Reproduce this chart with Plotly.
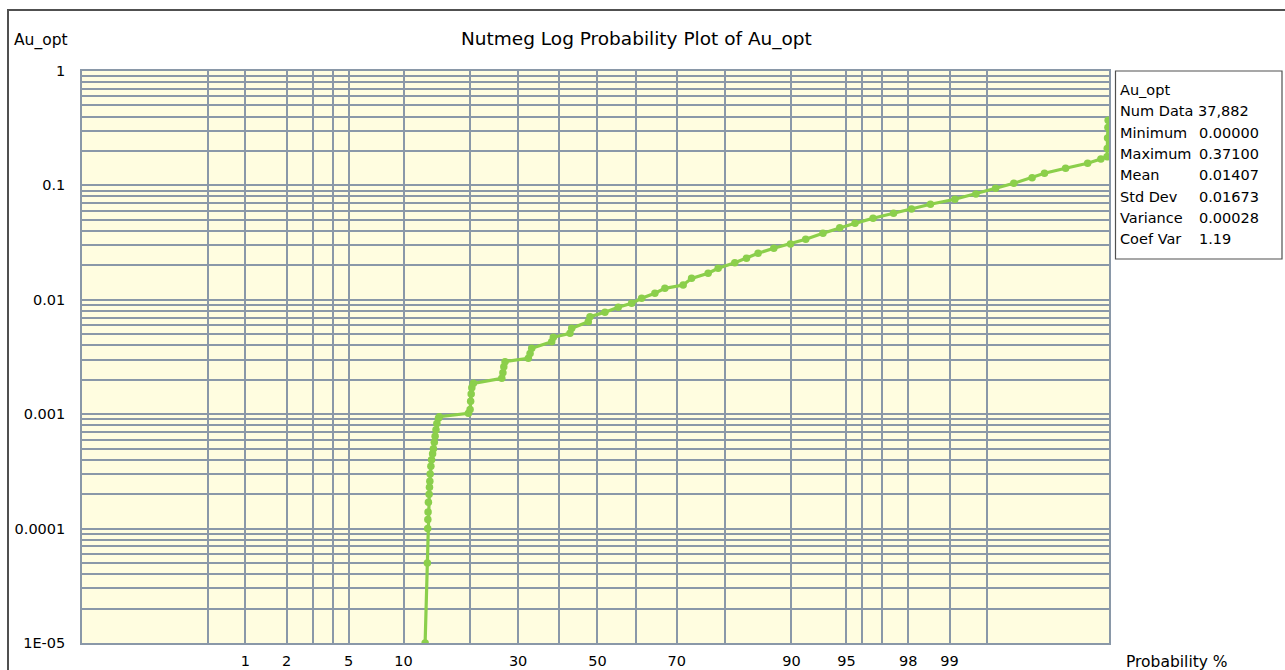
from statistics import NormalDist
import plotly.graph_objects as go

# Cumulative probability (%) and Au_opt grade of the plotted samples
prob_pct = [
    12.74, 13.05, 13.10, 13.12, 13.15, 13.20, 13.30, 13.35, 13.40, 13.45,
    13.55, 13.65, 13.80, 13.92, 14.05, 14.17, 14.30, 14.43, 14.67, 14.80,
    19.69, 20.00, 20.10, 20.20, 20.32, 20.62, 26.36, 26.60, 26.80, 27.07,
    32.39, 32.80, 33.20, 38.12, 38.53, 42.80, 43.24, 47.58, 48.03, 51.97,
    55.46, 58.93, 61.48, 64.78, 67.20, 71.44, 73.30, 76.77, 78.74, 81.79,
    83.76, 85.57, 87.80, 89.89, 91.56, 93.19, 94.53, 95.56, 96.57, 97.48,
    98.10, 98.61, 99.09, 99.38, 99.574, 99.703, 99.796, 99.843, 99.901, 99.940,
    99.956, 99.962, 99.9622, 99.9625, 99.9628, 99.963,
]
au_value = [
    0.00001, 0.00005, 0.00010, 0.00012, 0.00014, 0.00017, 0.00020, 0.00023, 0.00026, 0.00030,
    0.00035, 0.00040, 0.00045, 0.00050, 0.00057, 0.00064, 0.00073, 0.00083, 0.00092, 0.00095,
    0.00102, 0.00110, 0.00130, 0.00150, 0.00170, 0.00186, 0.00206, 0.00230, 0.00260, 0.00288,
    0.00308, 0.00340, 0.00377, 0.00430, 0.00470, 0.00509, 0.00564, 0.00644, 0.00712, 0.00780,
    0.00860, 0.00932, 0.01030, 0.01140, 0.01260, 0.01347, 0.01540, 0.01705, 0.01885, 0.02110,
    0.02305, 0.02550, 0.02820, 0.03075, 0.03380, 0.03810, 0.04270, 0.04660, 0.05160, 0.05700,
    0.06220, 0.06840, 0.07560, 0.08410, 0.09430, 0.10430, 0.11680, 0.12760, 0.14110, 0.15600,
    0.17000, 0.17800, 0.21000, 0.26000, 0.32000, 0.37100,
]

# Probability axis: gridline positions and labelled ticks
grid_pct = [0.5, 1, 2, 3, 4, 5, 10, 20, 30, 40, 50, 60, 70, 80, 90, 95, 96, 97, 98, 99, 99.5]
label_pct = [1, 2, 5, 10, 30, 50, 70, 90, 95, 98, 99]

# Value axis decades
decades = [1e-5, 1e-4, 1e-3, 1e-2, 1e-1, 1]
decade_labels = ["1E-05", "0.0001", "0.001", "0.01", "0.1", "1"]

# Summary statistics panel
stat_names = ["Num Data", "Minimum", "Maximum", "Mean", "Std Dev", "Variance", "Coef Var"]
stat_values = ["37,882", "0.00000", "0.37100", "0.01407", "0.01673", "0.00028", "1.19"]

nd = NormalDist()
z_of = lambda p: nd.inv_cdf(p / 100.0)

xs = [z_of(p) for p in prob_pct]

# Gridlines at every mantissa 1..9 of each decade
y_tickvals, y_ticktext = [], []
for d, lab in zip(decades, decade_labels):
    y_tickvals.append(d)
    y_ticktext.append(lab)
    if d < 1:
        for m in range(2, 10):
            y_tickvals.append(d * m)
            y_ticktext.append("")

x_tickvals = [z_of(p) for p in grid_pct]
x_ticktext = [(str(p) if p in label_pct else "") for p in grid_pct]

W, H = 1285, 670
L, R, T, B = 82, 176, 71, 27
pw, ph = W - L - R, H - T - B


def px(x):
    return (x - L) / pw


def py(y):
    return (H - B - y) / ph


FONT = "DejaVu Sans"
GRID = "#8A98A8"
TXT = 14.5
STAT = 14.5

fig = go.Figure()
fig.add_trace(go.Scatter(
    x=xs, y=au_value, mode="lines+markers",
    line=dict(color="#8BCF4B", width=3.2),
    marker=dict(color="#8BCF4B", size=7.5),
    hoverinfo="skip", showlegend=False,
))

fig.update_layout(
    width=W, height=H, autosize=False,
    margin=dict(l=L, r=R, t=T, b=B, autoexpand=False),
    paper_bgcolor="white", plot_bgcolor="#FFFDE0",
    font=dict(family=FONT, size=TXT, color="black"),
    xaxis=dict(
        range=[-3.406, 3.380], tickmode="array", tickvals=x_tickvals, ticktext=x_ticktext,
        showgrid=True, gridcolor=GRID, gridwidth=1.6, zeroline=False,
        showline=True, mirror=True, linecolor=GRID, linewidth=1.6,
        ticks="outside", ticklen=4, tickcolor="rgba(0,0,0,0)",
        tickfont=dict(family=FONT, size=TXT), automargin=False,
    ),
    yaxis=dict(
        type="log", range=[-5, 0], tickmode="array", tickvals=y_tickvals, ticktext=y_ticktext,
        showgrid=True, gridcolor=GRID, gridwidth=1.6, zeroline=False,
        showline=True, mirror=True, linecolor=GRID, linewidth=1.6,
        ticks="outside", ticklen=12, tickcolor="rgba(0,0,0,0)",
        tickfont=dict(family=FONT, size=TXT), automargin=False,
    ),
)

# Outer frame
fig.add_shape(type="rect", xref="paper", yref="paper",
              x0=px(8), y0=py(10), x1=px(1400), y1=py(800),
              line=dict(color="#505050", width=2), fillcolor="rgba(0,0,0,0)", layer="above")

# Statistics box
fig.add_shape(type="rect", xref="paper", yref="paper",
              x0=px(1115.5), y0=py(71), x1=px(1282), y1=py(259),
              line=dict(color="#505050", width=1.2), fillcolor="white")

ann = []
ann.append(dict(text="Nutmeg Log Probability Plot of Au_opt", x=px(636), y=py(39),
                xanchor="center", yanchor="middle", font=dict(size=18.5)))
ann.append(dict(text="Au_opt", x=px(12), y=py(41), xanchor="left", yanchor="middle",
                font=dict(size=15.5)))
ann.append(dict(text="Probability %", x=px(1124), y=py(662), xanchor="left", yanchor="middle",
                font=dict(size=15.5)))

row_y0, row_dy = 90, 21.3
ann.append(dict(text="Au_opt", x=px(1118), y=py(row_y0), xanchor="left", yanchor="middle",
                font=dict(size=STAT)))
for i, (name, val) in enumerate(zip(stat_names, stat_values)):
    yy = py(row_y0 + row_dy * (i + 1))
    if i == 0:
        ann.append(dict(text=f"{name} {val}", x=px(1118), y=yy, xanchor="left",
                        yanchor="middle", font=dict(size=STAT)))
    else:
        ann.append(dict(text=name, x=px(1118), y=yy, xanchor="left", yanchor="middle",
                        font=dict(size=STAT)))
        ann.append(dict(text=val, x=px(1197), y=yy, xanchor="left", yanchor="middle",
                        font=dict(size=STAT)))

for a in ann:
    a.update(xref="paper", yref="paper", showarrow=False)
fig.update_layout(annotations=ann)

fig.write_html("out.html")
